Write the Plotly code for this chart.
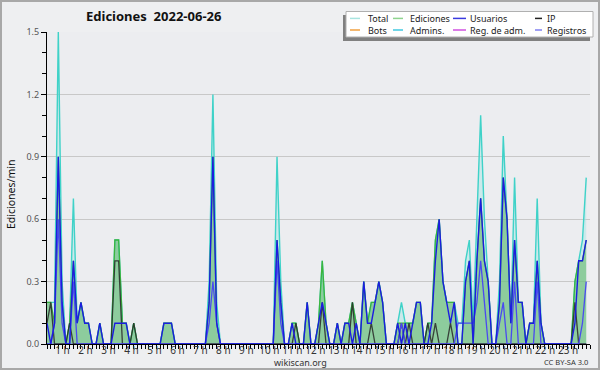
import plotly.graph_objects as go

# ---- data: edits per minute, one value per 10-minute bin (6 per hour, 24 hours) ----
hours = list(range(1, 24))
hour_labels = [f"{h} h" for h in hours]

total = [
    .2, .2, .2, 1.5, .3, 0,      # 0 h
    .1, .7, .1, .2, .1, .1,      # 1 h
    0, 0, .1, 0, 0, 0,           # 2 h
    .5, .5, .1, .1, 0, .1,       # 3 h
    0, 0, 0, 0, 0, 0,            # 4 h
    0, .1, .1, .1, 0, 0,         # 5 h
    0, 0, 0, 0, 0, 0,            # 6 h
    0, .3, 1.2, .2, 0, 0,        # 7 h
    0, 0, 0, 0, 0, 0,            # 8 h
    0, 0, 0, 0, 0, 0,            # 9 h
    0, .9, .3, 0, 0, .1,         # 10 h
    .1, 0, 0, .2, 0, 0,          # 11 h
    .1, .4, .1, 0, 0, .1,        # 12 h
    0, .1, .1, .2, .1, 0,        # 13 h
    .3, .1, .2, .2, .3, .2,      # 14 h
    0, 0, 0, .1, .2, .1,         # 15 h
    .1, .1, .2, .2, 0, .1,       # 16 h
    .1, .5, .6, .3, .2, .2,      # 17 h
    .2, .1, .1, .4, .5, .1,      # 18 h
    .6, 1.1, .6, .3, 0, 0,       # 19 h
    .3, 1.0, .6, .1, .8, .2,     # 20 h
    .2, 0, .1, .1, .7, .1,       # 21 h
    0, 0, 0, 0, 0, 0,            # 22 h
    0, 0, .3, .4, .5, .8,        # 23 h
]

ediciones = [
    .2, .2, .1, .9, .2, 0,
    .1, .4, .1, .2, .1, .1,
    0, 0, .1, 0, 0, 0,
    .5, .5, .1, .1, 0, .1,
    0, 0, 0, 0, 0, 0,
    0, .1, .1, .1, 0, 0,
    0, 0, 0, 0, 0, 0,
    0, .2, .9, .1, 0, 0,
    0, 0, 0, 0, 0, 0,
    0, 0, 0, 0, 0, 0,
    0, .5, .2, 0, 0, .1,
    .1, 0, 0, .2, 0, 0,
    .1, .4, .1, 0, 0, .1,
    0, .1, .1, .2, .1, 0,
    .3, .1, .2, .2, .3, .2,
    0, 0, 0, .1, .1, .1,
    .1, .1, .2, .2, 0, .1,
    .1, .5, .6, .3, .2, .2,
    .2, 0, 0, .3, .4, 0,
    .4, .7, .4, .3, 0, 0,
    .2, .8, .6, .1, .5, .2,
    .2, 0, .1, .1, .4, .1,
    0, 0, 0, 0, 0, 0,
    0, 0, .3, .4, .4, .5,
]

usuarios = [
    .1, 0, .1, .9, .2, 0,
    0, .4, .1, .2, .1, .1,
    0, 0, .1, 0, 0, 0,
    .1, .1, .1, .1, 0, 0,
    0, 0, 0, 0, 0, 0,
    0, .1, .1, .1, 0, 0,
    0, 0, 0, 0, 0, 0,
    0, .2, .9, .1, 0, 0,
    0, 0, 0, 0, 0, 0,
    0, 0, 0, 0, 0, 0,
    0, .5, .2, 0, 0, .1,
    0, 0, 0, .2, 0, 0,
    .1, .2, .1, 0, 0, .1,
    0, .1, .1, 0, .1, 0,
    .3, .1, .1, .2, .3, .2,
    0, 0, 0, .1, 0, .1,
    0, .1, .2, .2, 0, 0,
    .1, .4, .6, .3, .2, .1,
    .2, 0, 0, .3, .4, 0,
    .4, .7, .4, .3, 0, 0,
    .2, .8, .6, .1, .5, .2,
    .2, 0, .1, .1, .4, .1,
    0, 0, 0, 0, 0, 0,
    0, 0, .1, .4, .4, .5,
]

ip = [
    .1, .2, 0, 0, 0, 0,
    .1, 0, 0, 0, 0, 0,
    0, 0, 0, 0, 0, 0,
    .4, .4, 0, 0, 0, .1,
    0, 0, 0, 0, 0, 0,
    0, 0, 0, 0, 0, 0,
    0, 0, 0, 0, 0, 0,
    0, 0, 0, 0, 0, 0,
    0, 0, 0, 0, 0, 0,
    0, 0, 0, 0, 0, 0,
    0, 0, 0, 0, 0, 0,
    .1, 0, 0, 0, 0, 0,
    0, .2, 0, 0, 0, 0,
    0, 0, 0, .2, 0, 0,
    0, 0, .1, 0, 0, 0,
    0, 0, 0, 0, .1, 0,
    .1, 0, 0, 0, 0, .1,
    0, .1, 0, 0, 0, .1,
    0, 0, 0, 0, 0, 0,
    0, 0, 0, 0, 0, 0,
    0, 0, 0, 0, 0, 0,
    0, 0, 0, 0, 0, 0,
    0, 0, 0, 0, 0, 0,
    0, 0, .2, 0, 0, 0,
]

registros = [
    0, 0, .1, .6, .1, 0,
    0, .3, 0, 0, 0, 0,
    0, 0, 0, 0, 0, 0,
    0, 0, 0, 0, 0, 0,
    0, 0, 0, 0, 0, 0,
    0, 0, 0, 0, 0, 0,
    0, 0, 0, 0, 0, 0,
    0, .1, .3, .1, 0, 0,
    0, 0, 0, 0, 0, 0,
    0, 0, 0, 0, 0, 0,
    0, .4, .1, 0, 0, 0,
    0, 0, 0, 0, 0, 0,
    0, 0, 0, 0, 0, 0,
    0, 0, 0, 0, 0, 0,
    0, 0, 0, 0, 0, 0,
    0, 0, 0, 0, .1, 0,
    0, 0, 0, 0, 0, 0,
    0, 0, 0, 0, 0, 0,
    0, .1, .1, .1, .1, .1,
    .2, .4, .2, 0, 0, 0,
    .1, .2, 0, 0, .3, 0,
    0, 0, 0, 0, .3, 0,
    0, 0, 0, 0, 0, 0,
    0, 0, 0, 0, .1, .3,
]

bots = [0] * 144
admins = [0] * 144
reg_adm = [0] * 144

legend_names = ["Total", "Ediciones", "Usuarios", "IP",
                "Bots", "Admins.", "Reg. de adm.", "Registros"]
legend_colors = ["#a8e4e0", "#8fd48f", "#3a3ae0", "#222222",
                 "#f0a040", "#40c8e0", "#d050e0", "#8080f0"]

# ---- geometry helpers (pixel -> paper) ----
W, H = 600, 370
PL, PR, PT, PB = 47, 590, 32, 344
def px(xp):
    return (xp - PL) / (PR - PL)
def py(yp):
    return (PB - yp) / (PB - PT)

n = len(total)
x = list(range(n))
XMAX = 144

fig = go.Figure()

# filled areas
fig.add_trace(go.Scatter(x=x, y=total, mode="lines", line=dict(width=0, color="rgba(0,0,0,0)"),
                         fill="tozeroy", fillcolor="rgba(165,228,228,0.45)",
                         hoverinfo="skip", showlegend=False))
fig.add_trace(go.Scatter(x=x, y=ediciones, mode="lines", line=dict(width=0, color="rgba(0,0,0,0)"),
                         fill="tozeroy", fillcolor="rgba(80,175,80,0.5)",
                         hoverinfo="skip", showlegend=False))

# lines
line_specs = [
    (bots, "#f0a040", 1.2),
    (reg_adm, "#d050e0", 1.2),
    (admins, "#40c8e0", 1.2),
    (total, "#3fd2c8", 1.4),
    (ediciones, "#3cb43c", 1.3),
    (ip, "rgba(40,40,40,0.85)", 1.3),
    (registros, "#4a4af0", 1.3),
    (usuarios, "#1c1ce0", 1.4),
]
for ys, col, w in line_specs:
    fig.add_trace(go.Scatter(x=x, y=ys, mode="lines", line=dict(color=col, width=w),
                             hoverinfo="skip", showlegend=False))

# label centres of hour ticks (slightly left of the hour marks, as in source)
lab_pos = [((62.5 + (h - 1) * 22.98) - PL) / ((PR - PL) / XMAX) for h in hours]

fig.update_xaxes(range=[0, XMAX], showline=True, linecolor="black", linewidth=1,
                 tickmode="array", tickvals=lab_pos, ticktext=hour_labels,
                 ticks="outside", ticklen=0, showgrid=False, zeroline=False,
                 ticklabelstandoff=-3,
                 tickfont=dict(family="Noto Sans", size=10, color="#333333"),
                 minor=dict(ticks="outside", dtick=1, tick0=0, ticklen=4,
                            tickcolor="black", tickwidth=1, showgrid=False))
fig.update_yaxes(range=[0, 1.5], showline=True, linecolor="black", linewidth=1,
                 tickmode="array", tickvals=[0, .3, .6, .9, 1.2, 1.5],
                 ticktext=["0.0", "0.3", "0.6", "0.9", "1.2", "1.5"],
                 ticks="outside", ticklen=5, tickcolor="black",
                 showgrid=True, gridcolor="#c8c8c8", gridwidth=1, zeroline=False,
                 tickfont=dict(family="Noto Sans", size=9, color="#555555"),
                 minor=dict(ticks="outside", dtick=.1, tick0=0, ticklen=4,
                            tickcolor="black", tickwidth=1, showgrid=False))

shapes = []
annotations = []

# outer border
shapes.append(dict(type="rect", xref="paper", yref="paper",
                   x0=px(1), x1=px(599), y0=py(1), y1=py(369),
                   line=dict(color="#a8a8a8", width=2), fillcolor="rgba(0,0,0,0)", layer="above"))

# legend box with shadow
shapes.append(dict(type="rect", xref="paper", yref="paper",
                   x0=px(343), x1=px(590), y0=py(15), y1=py(41),
                   line=dict(width=0), fillcolor="#808080", layer="above"))
shapes.append(dict(type="rect", xref="paper", yref="paper",
                   x0=px(346), x1=px(593), y0=py(11.5), y1=py(37),
                   line=dict(color="#b0b0b0", width=1), fillcolor="#ffffff", layer="above"))

col_sw = [(350, 360), (393, 403), (453, 466), (535, 542)]
col_tx = [366, 408, 468, 545]
row_y = [18.4, 30.0]
for k, (name, col) in enumerate(zip(legend_names, legend_colors)):
    r, c = divmod(k, 4)
    yy = row_y[r]
    shapes.append(dict(type="line", xref="paper", yref="paper",
                       x0=px(col_sw[c][0]), x1=px(col_sw[c][1]), y0=py(yy), y1=py(yy),
                       line=dict(color=col, width=1.5), layer="above"))
# one two-line label per legend column
for c in range(4):
    annotations.append(dict(xref="paper", yref="paper", x=px(col_tx[c]), y=py(24.2),
                            xanchor="left", yanchor="middle", showarrow=False, align="left",
                            text=legend_names[c] + "<br>" + legend_names[c + 4],
                            font=dict(family="Noto Sans", size=9, color="#222222")))

# title
annotations.append(dict(xref="paper", yref="paper", x=px(153), y=py(16),
                        xanchor="center", yanchor="middle", showarrow=False,
                        text="Ediciones&nbsp;&nbsp;2022-06-26",
                        font=dict(family="Noto Sans", size=13, color="#111111", weight="bold")))
# y axis title
annotations.append(dict(xref="paper", yref="paper", x=px(11), y=py(195),
                        xanchor="center", yanchor="middle", showarrow=False, textangle=-90,
                        text="Ediciones/min",
                        font=dict(family="Noto Sans", size=10.5, color="#111111")))
# footer texts
annotations.append(dict(xref="paper", yref="paper", x=px(300), y=py(362.5),
                        xanchor="center", yanchor="middle", showarrow=False,
                        text="wikiscan.org", borderpad=0,
                        font=dict(family="Noto Sans", size=9, color="#333333")))
annotations.append(dict(xref="paper", yref="paper", x=px(590), y=py(362),
                        xanchor="right", yanchor="middle", showarrow=False,
                        text="CC BY-SA 3.0",
                        font=dict(family="Noto Sans", size=7.5, color="#333333")))

fig.update_layout(width=W, height=H, autosize=False,
                  margin=dict(l=PL, r=W - PR, t=PT, b=H - PB, pad=0),
                  paper_bgcolor="#eeeff1", plot_bgcolor="#ecedf0",
                  showlegend=False, shapes=shapes, annotations=annotations)

fig.write_html("out.html", config={"displayModeBar": False},
               post_script="document.body.style.margin='0';document.body.style.overflow='hidden';")
